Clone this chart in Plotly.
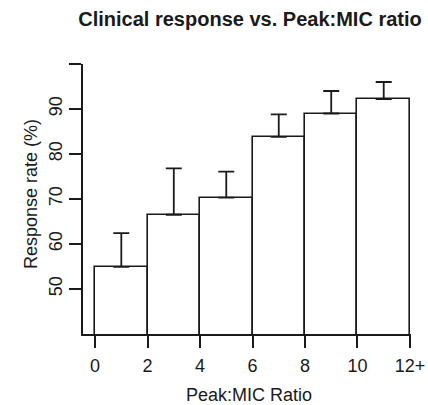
import plotly.graph_objects as go

categories = ["0-2", "2-4", "4-6", "6-8", "8-10", "10-12+"]
bin_left = [0, 2, 4, 6, 8, 10]
bin_width = [2, 2, 2, 2, 2, 2]
response_rate = [54.9, 66.5, 70.3, 83.8, 89.0, 92.2]
upper_limit = [62.4, 76.8, 76.1, 88.8, 94.0, 96.0]
x_tick_vals = [0, 2, 4, 6, 8, 10, 12]
x_tick_text = ["0", "2", "4", "6", "8", "10", "12+"]
y_tick_vals = [50, 60, 70, 80, 90, 100]
y_tick_text = ["50", "60", "70", "80", "90", ""]

Y_FLOOR = 39
centers = [l + w / 2 for l, w in zip(bin_left, bin_width)]
err_plus = [u - v for u, v in zip(upper_limit, response_rate)]

FONT = "Liberation Sans, Arial, Helvetica, sans-serif"
INK = "#1a1a1a"

fig = go.Figure()
fig.add_trace(go.Bar(
    x=centers, y=[v - Y_FLOOR for v in response_rate], width=bin_width,
    base=[Y_FLOOR] * len(centers),
    marker=dict(color="white", line=dict(color=INK, width=1.6)),
    error_y=dict(type="data", symmetric=False, array=err_plus,
                 arrayminus=[0] * len(err_plus),
                 color=INK, thickness=1.8, width=8),
    hovertext=categories,
    showlegend=False,
    cliponaxis=True,
))

fig.update_layout(
    width=428, height=405,
    margin=dict(l=83, r=17, t=64, b=71, autoexpand=False),
    paper_bgcolor="white", plot_bgcolor="white",
    font=dict(family=FONT, size=18, color=INK),
    title=dict(text="<b>Clinical response vs. Peak:MIC ratio</b>",
               x=250 / 428, xanchor="center", xref="container",
               y=1 - 19 / 405, yanchor="middle", yref="container",
               font=dict(family=FONT, size=20, color=INK)),
    xaxis=dict(range=[-0.46, 12.04], tickvals=x_tick_vals, ticktext=x_tick_text,
               showline=True, linecolor=INK, linewidth=1.6,
               ticks="outside", ticklen=12, tickwidth=1.6, tickcolor=INK,
               showgrid=False, zeroline=False, ticklabelstandoff=3,
               automargin=False, tickfont=dict(size=18)),
    yaxis=dict(range=[40, 100], tickvals=y_tick_vals, ticktext=y_tick_text,
               showline=True, linecolor=INK, linewidth=1.6,
               ticks="outside", ticklen=12, tickwidth=1.6, tickcolor=INK,
               showgrid=False, zeroline=False, tickangle=-90,
               ticklabelstandoff=0, automargin=False, tickfont=dict(size=18)),
    bargap=0,
    annotations=[
        dict(text="Response rate (%)", textangle=-90, xref="paper", yref="paper",
             x=(31 - 83) / 328, y=(334 - 194) / 270, xanchor="center",
             yanchor="middle", showarrow=False, font=dict(size=18)),
        dict(text="Peak:MIC Ratio", xref="paper", yref="paper",
             x=(249 - 83) / 328, y=(334 - 395) / 270, xanchor="center",
             yanchor="middle", showarrow=False, font=dict(size=18)),
    ],
)

fig.write_html("out.html",
               config={"displayModeBar": False},
               post_script="document.body.style.margin='0';"
                           "document.body.style.overflow='hidden';")
